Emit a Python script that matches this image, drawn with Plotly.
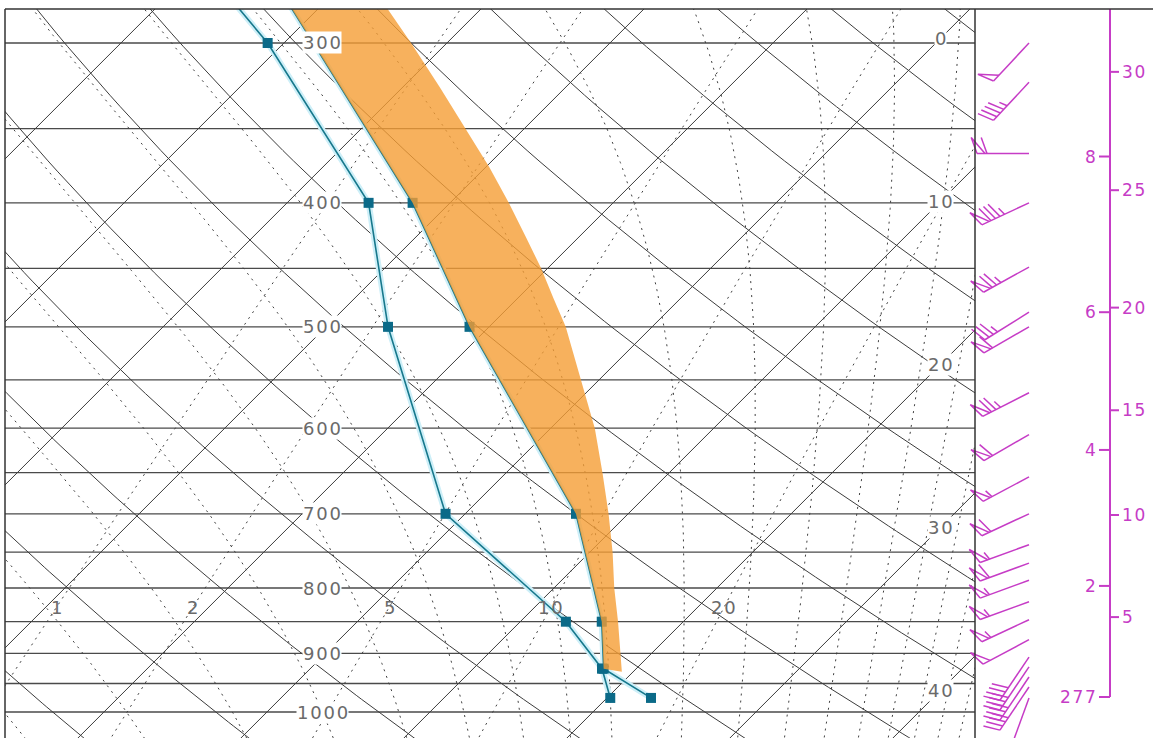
import numpy as np
import plotly.graph_objects as go

# ---------------- values ----------------
levels_hpa = [975, 925, 850, 700, 500, 400, 300, 250]
temperature_c = [22.7, 18.0, 15.0, 6.8, -11.2, -22.3, -38.2, -48.3]
dewpoint_c = [20.2, 17.9, 12.8, -1.2, -16.2, -25.0, -41.0, -52.4]

parcel_hpa = [930, 900, 850, 800, 750, 700, 650, 600, 550, 500, 475, 450, 425, 400,
              375, 350, 325, 300, 275, 250]
parcel_c = [19.3, 18.1, 16.0, 13.7, 11.4, 8.8, 5.9, 2.7, -1.1, -5.3, -7.8, -10.4, -13.3,
            -16.4, -19.8, -23.6, -27.7, -32.2, -37.2, -42.7]

wind_hpa = [300, 322, 366, 400, 449, 487, 500, 563, 607, 655, 700, 740, 765, 789, 820, 847, 878, 906, 922, 939, 956, 975]
wind_dir = [223, 223, 270, 245, 241, 238, 240, 243, 240, 242, 245, 250, 250, 250, 250, 245, 242, 214, 214, 214, 214, 200]
wind_ms = [20, 18, 24, 34, 30, 14, 24, 30, 24, 22, 24, 22, 24, 22, 22, 22, 20, 16, 16, 16, 16, 1]

isobar_label_hpa = [300, 400, 500, 600, 700, 800, 900, 1000]
isotherm_label_c = [0, 10, 20, 30, 40]
mixing_label_gkg = [1, 2, 5, 10, 20]

height_km = [2, 4, 6, 8]
height_km_hpa = [797, 624, 487, 368]
height_kft = [5, 10, 15, 20, 25, 30]
height_kft_hpa = [843, 701.5, 581, 483, 391, 316]
station_elev_m = 277
station_hpa = 973.4

# ---------------- diagram geometry ----------------
K_SKEW = 34.09
P_TOP, P_BOT = 282.2, 1047.9
X_MIN, X_MAX = -16.07, 43.44
PLOT_H = 729
PX_PER_LN = PLOT_H / np.log(P_BOT / P_TOP)

GRID = "#3c3c3c"
MAG = "#C63CC6"
TEAL = "#17788C"
LABEL_FONT = "DejaVu Sans"


def spaced(s):
    return "\u200a".join(str(s))


def skew_x(t, p):
    return np.asarray(t, float) + K_SKEW * np.log(1000.0 / np.asarray(p, float))


def es(tc):
    return 6.112 * np.exp(17.67 * tc / (tc + 243.5))


def rs(tc, p):
    e = es(tc)
    return 0.622 * e / (p - e)


def td_from_w(w, p):
    e = (w / 1000.0) * p / (0.622 + w / 1000.0)
    a = np.log(e / 6.112)
    return 243.5 * a / (17.67 - a)


def dtdp(tc, p):
    T = tc + 273.15
    r = rs(tc, p)
    Lv, Rd, cp = 2.501e6, 287.04, 1005.7
    return (Rd * T + Lv * r) / (p * (cp + Lv * Lv * r * 0.622 / (Rd * T * T)))


def integ(t0, ps):
    out = [t0]
    t = t0
    for i in range(len(ps) - 1):
        p = ps[i]
        h = ps[i + 1] - p
        k1 = dtdp(t, p)
        k2 = dtdp(t + h * k1 / 2, p + h / 2)
        k3 = dtdp(t + h * k2 / 2, p + h / 2)
        k4 = dtdp(t + h * k3, p + h)
        t = t + h * (k1 + 2 * k2 + 2 * k3 + k4) / 6
        out.append(t)
    return np.array(out)


def theta_se_1000(tc):
    T = tc + 273.15
    r = 1000 * rs(tc, 1000.0)
    return T * np.exp((3.376 / T - 0.00254) * r * (1 + 0.00081 * r))


def t_for_theta_se(th):
    lo, hi = -90.0, 60.0
    for _ in range(60):
        mid = 0.5 * (lo + hi)
        if theta_se_1000(mid) < th:
            lo = mid
        else:
            hi = mid
    return 0.5 * (lo + hi)


fig = go.Figure()


def add_family(xs_list, ps_list, color, width, dash="solid"):
    X, Y = [], []
    for xs, ps in zip(xs_list, ps_list):
        X += list(xs) + [None]
        Y += list(ps) + [None]
    fig.add_trace(go.Scatter(x=X, y=Y, mode="lines", hoverinfo="skip",
                             line=dict(color=color, width=width, dash=dash),
                             showlegend=False))


# isobars
isobars = np.arange(300, 1001, 50)
add_family([[X_MIN - 1, X_MAX + 1]] * len(isobars), [[p, p] for p in isobars], "#4a4a4a", 1.3)

# isotherms
p_line = np.array([240.0, 1060.0])
iso_t = np.arange(-120, 51, 10)
add_family([skew_x([t, t], p_line) for t in iso_t], [p_line] * len(iso_t), GRID, 1)

# dry adiabats
p_curve = np.linspace(240, 1060, 120)
thetas = np.arange(230, 471, 10)
add_family([skew_x(th * (p_curve / 1000.0) ** 0.286 - 273.15, p_curve) for th in thetas],
           [p_curve] * len(thetas), GRID, 1)

# moist (pseudo) adiabats
ps_up = np.arange(1000.0, 239.0, -4.0)
ps_dn = np.arange(1000.0, 1061.0, 4.0)
mx, mp = [], []
theta_se_list = list(range(220, 341, 10)) + list(range(360, 521, 20))
for th in theta_se_list:
    t0 = t_for_theta_se(th)
    tu = integ(t0, ps_up)
    tdn = integ(t0, ps_dn)
    pp = np.concatenate([ps_dn[::-1], ps_up[1:]])
    tt = np.concatenate([tdn[::-1], tu[1:]])
    mx.append(skew_x(tt, pp))
    mp.append(pp)
add_family(mx, mp, "#404040", 1, "2px,5px")

# mixing-ratio lines
p_mr = np.linspace(240, 1060, 60)
add_family([skew_x(td_from_w(w, p_mr), p_mr) for w in mixing_label_gkg],
           [p_mr] * len(mixing_label_gkg), "#404040", 1, "2px,5px")

# profiles: light halo then teal lines with square markers
for vals in (dewpoint_c, temperature_c):
    fig.add_trace(go.Scatter(x=skew_x(vals, levels_hpa), y=levels_hpa, mode="lines",
                             line=dict(color="#cdeff8", width=6), hoverinfo="skip",
                             showlegend=False))
for vals in (dewpoint_c, temperature_c):
    fig.add_trace(go.Scatter(x=skew_x(vals, levels_hpa), y=levels_hpa, mode="lines+markers",
                             line=dict(color=TEAL, width=1.6),
                             marker=dict(symbol="square", size=10, color="#0B6A88"),
                             hoverinfo="skip", showlegend=False))

# positive area between parcel and environment
env_p = [p for p in levels_hpa if p <= 925]
env_t = [t for p, t in zip(levels_hpa, temperature_c) if p <= 925]
poly_p = list(parcel_hpa) + env_p[::-1]
poly_t = list(parcel_c) + env_t[::-1]
fig.add_trace(go.Scatter(x=skew_x(poly_t, poly_p), y=poly_p, mode="lines", fill="toself",
                         fillcolor="rgba(245,157,52,0.80)", line=dict(width=0),
                         hoverinfo="skip", showlegend=False))

# ---------------- wind barbs (right column) ----------------
STATION_X = 54.0
STAFF, FEATHER, PEN_W, GAP = 52.0, 17.0, 8.0, 5.0


def to_xy(p_station, off):
    return STATION_X + off[0], p_station * np.exp(off[1] / PX_PER_LN)


bx, by = [], []
for p, d, s in zip(wind_hpa, wind_dir, wind_ms):
    rad = np.deg2rad(d)
    u = np.array([np.sin(rad), -np.cos(rad)])
    n = np.array([-u[1], u[0]])
    f = 0.94 * n + 0.34 * u
    tail = STAFF * u
    P = lambda q: tail - q * u
    paths = [[np.zeros(2), tail]]
    npen = int(s // 20)
    rem = s - 20 * npen
    nfull = int(rem // 4)
    rem -= 4 * nfull
    half = rem >= 2
    q = 0.0
    for _ in range(npen):
        paths.append([P(q), P(q) + FEATHER * f, P(q + PEN_W)])
        q += PEN_W + 2
    if npen == 0 and nfull == 0 and half:
        q = GAP
    for _ in range(nfull):
        paths.append([P(q), P(q) + FEATHER * f])
        q += GAP
    if half:
        paths.append([P(q), P(q) + 0.5 * FEATHER * f])
    for path in paths:
        for pt in path:
            x, y = to_xy(p, pt)
            bx.append(x)
            by.append(y)
        bx.append(None)
        by.append(None)

fig.add_trace(go.Scatter(x=bx, y=by, xaxis="x2", yaxis="y", mode="lines",
                         line=dict(color=MAG, width=1.5), hoverinfo="skip", showlegend=False))

# ---------------- height axis ----------------
AX_X = 135.0
hx = [AX_X, AX_X, None]
hy = [P_TOP, station_hpa, None]
for p in height_km_hpa + [station_hpa]:
    hx += [AX_X - 11, AX_X, None]
    hy += [p, p, None]
for p in height_kft_hpa:
    hx += [AX_X, AX_X + 9, None]
    hy += [p, p, None]
fig.add_trace(go.Scatter(x=hx, y=hy, xaxis="x2", yaxis="y", mode="lines",
                         line=dict(color=MAG, width=2), hoverinfo="skip", showlegend=False))

annotations = []
MFONT = dict(family=LABEL_FONT, size=17, color=MAG)
for v, p in zip(height_km, height_km_hpa):
    annotations.append(dict(x=AX_X - 12, y=np.log10(p), xref="x2", yref="y", text=spaced(v),
                            showarrow=False, xanchor="right", yanchor="middle", font=MFONT))
annotations.append(dict(x=AX_X - 12, y=np.log10(station_hpa), xref="x2", yref="y",
                        text=spaced(station_elev_m), showarrow=False, xanchor="right",
                        yanchor="middle", font=MFONT))
for v, p in zip(height_kft, height_kft_hpa):
    annotations.append(dict(x=AX_X + 10, y=np.log10(p), xref="x2", yref="y", text=spaced(v),
                            showarrow=False, xanchor="left", yanchor="middle", font=MFONT))

# diagram labels
LBL = dict(family=LABEL_FONT, size=18, color="#6a6a6a")
for p in isobar_label_hpa:
    annotations.append(dict(x=3.4, y=np.log10(p), xref="x", yref="y", text=spaced(p),
                            showarrow=False, xanchor="center", yanchor="middle",
                            bgcolor="white", borderpad=0, font=LBL))
for t in isotherm_label_c:
    p = 1000.0 * np.exp(-(41.3 - t) / K_SKEW)
    annotations.append(dict(x=41.3, y=np.log10(p), xref="x", yref="y", text=spaced(t),
                            showarrow=False, xanchor="center", yanchor="middle",
                            bgcolor="white", borderpad=0, font=LBL))
for w in mixing_label_gkg:
    p = 828.0
    annotations.append(dict(x=float(skew_x(td_from_w(w, p), p)), y=np.log10(p), xref="x",
                            yref="y", text=spaced(w), showarrow=False, xanchor="center",
                            yanchor="middle", font=LBL))

W = 1148.0
main_right = 970.0 / W
shapes = [
    dict(type="line", xref="paper", yref="paper", x0=0, x1=1, y0=1, y1=1,
         line=dict(color="#333333", width=1.5)),
    dict(type="line", xref="paper", yref="paper", x0=0, x1=0, y0=0, y1=1,
         line=dict(color="#333333", width=1.5)),
    dict(type="line", xref="paper", yref="paper", x0=main_right, x1=main_right, y0=0, y1=1,
         line=dict(color="#333333", width=1.5)),
]

hide = dict(showgrid=False, zeroline=False, showticklabels=False, ticks="", showline=False)
fig.update_layout(
    width=1153, height=738,
    margin=dict(l=5, r=0, t=9, b=0),
    paper_bgcolor="white", plot_bgcolor="rgba(0,0,0,0)",
    showlegend=False,
    xaxis=dict(domain=[0, main_right], range=[X_MIN, X_MAX], **hide),
    xaxis2=dict(domain=[960.0 / W, 1.0], range=[-10, 178], anchor="y", **hide),
    yaxis=dict(type="log", range=[np.log10(P_BOT), np.log10(P_TOP)], **hide),
    annotations=annotations,
    shapes=shapes,
)

fig.write_html("out.html", config={"staticPlot": True},
               post_script="document.body.style.margin='0';document.body.style.overflow='hidden';")
